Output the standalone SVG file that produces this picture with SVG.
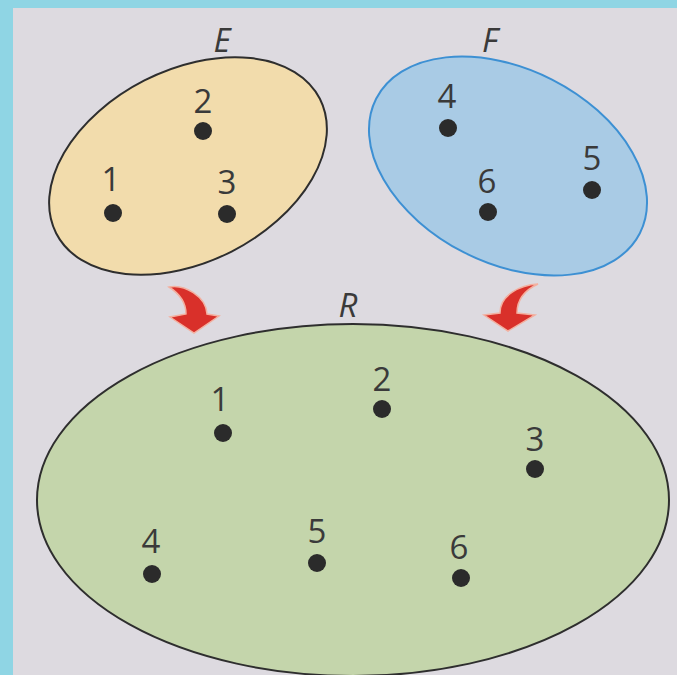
<svg xmlns="http://www.w3.org/2000/svg" width="677" height="675" viewBox="0 0 677 675">
<style>
.lbl{font-family:"Open Sans","Liberation Sans",sans-serif;font-size:33px;fill:#3a3a3a;text-anchor:middle}
.set{font-family:"Open Sans","Liberation Sans",sans-serif;font-size:33px;font-style:italic;fill:#3a3a3a;text-anchor:middle}
.dot{fill:#2b2b2b}
.arrow{fill:#d9302a;stroke:#f3b0a0;stroke-width:1.5}
</style>
<rect x="0" y="0" width="677" height="675" fill="#8fd5e4"/>
<rect x="13" y="8" width="664" height="667" fill="#dddae0"/>
<g id="E">
<ellipse cx="188" cy="166" rx="148" ry="96" transform="rotate(-27 188 166)" fill="#f2dcac" stroke="#2e2e2e" stroke-width="2"/>
<text class="set" x="222" y="52">E</text>
<circle class="dot" cx="203" cy="131" r="9"/><text class="lbl" x="203" y="113">2</text>
<circle class="dot" cx="113" cy="213" r="9"/><text class="lbl" x="111" y="191">1</text>
<circle class="dot" cx="227" cy="214" r="9"/><text class="lbl" x="227" y="194">3</text>
</g>
<g id="F">
<ellipse cx="508" cy="166" rx="148" ry="97" transform="rotate(27 508 166)" fill="#a9cbe5" stroke="#3d90d3" stroke-width="2"/>
<text class="set" x="490" y="52">F</text>
<circle class="dot" cx="448" cy="128" r="9"/><text class="lbl" x="447" y="108">4</text>
<circle class="dot" cx="592" cy="190" r="9"/><text class="lbl" x="592" y="170">5</text>
<circle class="dot" cx="488" cy="212" r="9"/><text class="lbl" x="487" y="193">6</text>
</g>
<g id="R">
<ellipse cx="353" cy="500" rx="316" ry="176" fill="#c4d5ab" stroke="#2e2e2e" stroke-width="2"/>
<text class="set" x="348" y="317">R</text>
<circle class="dot" cx="223" cy="433" r="9"/><text class="lbl" x="220" y="411">1</text>
<circle class="dot" cx="382" cy="409" r="9"/><text class="lbl" x="382" y="391">2</text>
<circle class="dot" cx="535" cy="469" r="9"/><text class="lbl" x="535" y="451">3</text>
<circle class="dot" cx="152" cy="574" r="9"/><text class="lbl" x="151" y="553">4</text>
<circle class="dot" cx="317" cy="563" r="9"/><text class="lbl" x="317" y="543">5</text>
<circle class="dot" cx="461" cy="578" r="9"/><text class="lbl" x="459" y="559">6</text>
</g>
<g id="connectors">
<path class="arrow" d="M169,287 C184,284 206,296 207,314 L219,316 L194,333 L170,317 L186,314 C186,303 180,294 169,287 Z"/>
<path class="arrow" d="M538,284 C520,285 500,295 500,313 L484,315 L508,331 L535,315 L517,313 C517,300 525,290 538,284 Z"/>
</g>
</svg>
